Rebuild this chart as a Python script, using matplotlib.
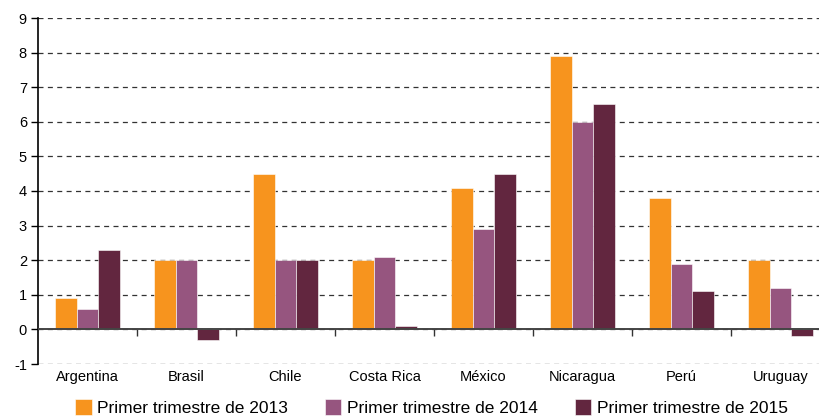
import numpy as np
import matplotlib
matplotlib.use("Agg")
import matplotlib.pyplot as plt

plt.rcParams["font.family"] = ["Liberation Sans", "DejaVu Sans"]
plt.rcParams["axes.unicode_minus"] = False

# Data
paises = ["Argentina", "Brasil", "Chile", "Costa Rica", "México", "Nicaragua", "Perú", "Uruguay"]
t2013 = [0.9, 2.0, 4.5, 2.0, 4.1, 7.9, 3.8, 2.0]
t2014 = [0.6, 2.0, 2.0, 2.1, 2.9, 6.0, 1.9, 1.2]
t2015 = [2.3, -0.3, 2.0, 0.1, 4.5, 6.5, 1.1, -0.2]
series_labels = ["Primer trimestre de 2013", "Primer trimestre de 2014", "Primer trimestre de 2015"]
colors = ["#F7941E", "#96557F", "#62263F"]

fig = plt.figure(figsize=(8.2, 4.17), dpi=100)
ax = fig.add_axes([38 / 820, 53 / 417, 792 / 820, 346 / 417])

x = np.arange(len(paises))
w = 0.222
for i, vals in enumerate([t2013, t2014, t2015]):
    ax.bar(x + (i - 1) * w, vals, w, color=colors[i], label=series_labels[i],
           edgecolor="white", linewidth=0.4, zorder=3)

ax.set_xlim(-0.5, len(paises) - 0.5)
ax.set_ylim(-1, 9)
ax.set_yticks(range(-1, 10))

# dashed grid
ax.yaxis.grid(True, linestyle=(0, (4, 3.5)), color="#333333", linewidth=0.9, zorder=0)
ax.axhline(0, color="#444444", linewidth=1.4, zorder=4)

for s in ["top", "right", "bottom"]:
    ax.spines[s].set_visible(False)
ax.spines["left"].set_linewidth(1.2)
ax.tick_params(axis="y", direction="out", length=5, width=1, labelsize=10.5, pad=3)

ax.set_xticks(x)
ax.set_xticklabels(paises)
ax.tick_params(axis="x", length=0, labelsize=10.5, pad=4)

# category separators on the zero line
sec = ax.secondary_xaxis(0.1)
sec.set_xticks(np.arange(0.5, len(paises) - 0.5, 1.0))
sec.set_xticklabels([])
sec.spines["bottom"].set_visible(False)
sec.tick_params(direction="out", length=5, width=1, color="#333333")

fig.legend(loc="lower center", ncol=3, frameon=False, fontsize=12.5,
           bbox_to_anchor=(0.526, -0.035), handlelength=0.95, handleheight=1.1,
           handletextpad=0.3, columnspacing=2.15)

fig.savefig("out.png", dpi=100)
